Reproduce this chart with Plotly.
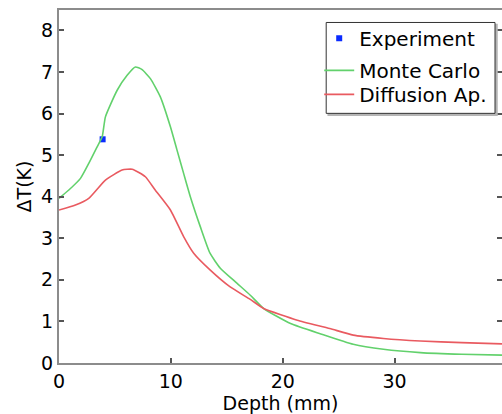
import plotly.graph_objects as go

# Data
exp_x = [3.9]
exp_y = [5.38]

mc_x = [0.0, 0.88, 1.92, 2.66, 3.41, 3.86, 4.15, 5.2, 6.09, 6.83, 7.4, 8.17, 9.06, 9.96, 10.55, 11.14,
        11.74, 12.63, 13.5, 14.42, 15.9, 17.1, 18.3, 20.7, 23.4, 26.3, 29.0, 32.3, 36.0, 39.6]
mc_y = [3.96, 4.16, 4.44, 4.8, 5.2, 5.44, 5.92, 6.56, 6.92, 7.12, 7.06, 6.84, 6.40, 5.68, 5.12, 4.56,
        4.0, 3.28, 2.64, 2.28, 1.92, 1.63, 1.31, 0.95, 0.70, 0.45, 0.33, 0.25, 0.21, 0.19]

da_x = [0.0, 1.47, 2.66, 4.15, 5.64, 6.54, 7.72, 8.6, 9.96, 11.14, 12.04, 13.5, 15.3, 17.1, 18.3,
        21.3, 24.2, 26.3, 29.0, 32.3, 36.0, 39.6]
da_y = [3.68, 3.8, 3.96, 4.4, 4.64, 4.66, 4.48, 4.16, 3.68, 3.04, 2.64, 2.24, 1.83, 1.53, 1.31,
        1.03, 0.83, 0.67, 0.59, 0.53, 0.49, 0.46]

x_ticks = [0, 10, 20, 30]
y_ticks = [0, 1, 2, 3, 4, 5, 6, 7, 8]

FONT = "DejaVu Sans"

fig = go.Figure()
fig.add_trace(go.Scatter(x=exp_x, y=exp_y, mode="markers", name="Experiment",
                         marker=dict(symbol="square", size=6, color="#0a2bff"),
                         legend="legend"))
fig.add_trace(go.Scatter(x=mc_x, y=mc_y, mode="lines", name="Monte Carlo",
                         line=dict(color="#62d16c", width=1.6, shape="spline", smoothing=0.5),
                         legend="legend2"))
fig.add_trace(go.Scatter(x=da_x, y=da_y, mode="lines", name="Diffusion Ap.",
                         line=dict(color="#e95a60", width=1.6, shape="spline", smoothing=0.5),
                         legend="legend3"))

axis_common = dict(showgrid=False, zeroline=False, showline=True, linecolor="#8c8c8c",
                   linewidth=2, ticks="inside", ticklen=5, tickwidth=1.5, tickcolor="#555",
                   automargin=False,
                   tickfont=dict(family=FONT, size=19, color="black"))

fig.update_xaxes(range=[0, 39.6], tickvals=x_ticks, mirror=True,
                 title=dict(text="Depth (mm)", font=dict(family=FONT, size=19, color="black"), standoff=0),
                 **axis_common)
fig.update_yaxes(range=[0, 8.49], tickvals=y_ticks, mirror="ticks",
                 title=dict(text="ΔT(K)", font=dict(family=FONT, size=19, color="black"), standoff=4),
                 **axis_common)

# plot area: left 58.5, width 443.5, top 9.5, height 353.5 (pixels)
def px_x(p):
    return (p - 58.5) / 443.5

def px_y(p):
    return (363.0 - p) / 353.5

leg_common = dict(xanchor="left", yanchor="middle", bgcolor="rgba(0,0,0,0)", borderwidth=0,
                  font=dict(family=FONT, size=20, color="black"), itemwidth=30)

# legend frame (shadow + box)
fig.add_shape(type="rect", xref="paper", yref="paper", layer="above",
              x0=px_x(328), x1=px_x(497), y0=px_y(115), y1=px_y(24),
              line=dict(color="#b5b5b5", width=1.5), fillcolor="#b5b5b5")
fig.add_shape(type="rect", xref="paper", yref="paper", layer="above",
              x0=px_x(326), x1=px_x(495), y0=px_y(113), y1=px_y(22),
              line=dict(color="#333333", width=1), fillcolor="white")

fig.update_layout(
    width=502, height=414,
    margin=dict(l=58.5, r=0, t=9.5, b=51),
    paper_bgcolor="white", plot_bgcolor="white",
    font=dict(family=FONT, size=18, color="black"),
    legend=dict(x=px_x(319), y=px_y(37.7), **leg_common),
    legend2=dict(x=px_x(319), y=px_y(70), **leg_common),
    legend3=dict(x=px_x(319), y=px_y(94), **leg_common),
    showlegend=True,
)

fig.write_html("out.html", config={"displayModeBar": False},
               post_script="document.body.style.margin='0';document.body.style.overflow='hidden';")
